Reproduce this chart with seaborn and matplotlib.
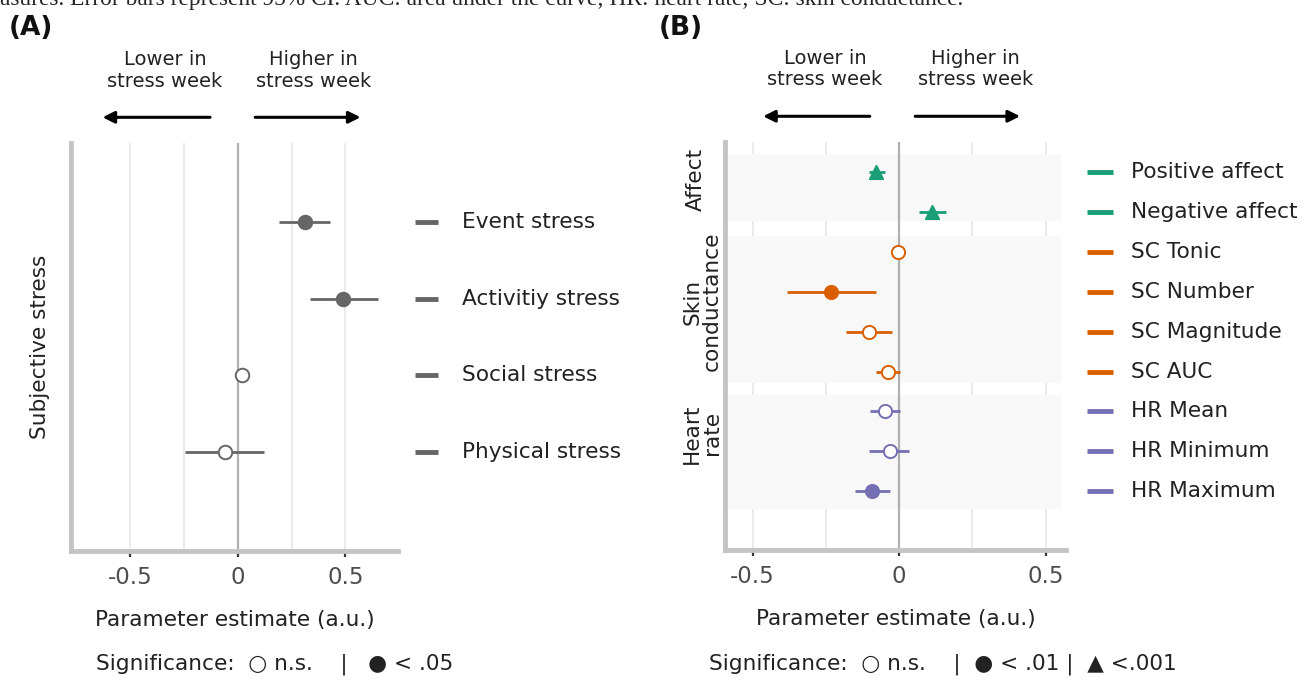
import numpy as np
import pandas as pd
import matplotlib
matplotlib.use("Agg")
import matplotlib.pyplot as plt
import matplotlib.transforms as mtrans
from matplotlib.lines import Line2D
import seaborn as sns

# ---------------- data ----------------
a_labels = ["Event stress", "Activitiy stress", "Social stress", "Physical stress"]
a_est = [0.31, 0.49, 0.02, -0.06]
a_lo = [0.19, 0.335, 0.005, -0.245]
a_hi = [0.43, 0.65, 0.035, 0.12]
a_sig = ["< .05", "< .05", "n.s.", "n.s."]

b_labels = ["Positive affect", "Negative affect", "SC Tonic", "SC Number",
            "SC Magnitude", "SC AUC", "HR Mean", "HR Minimum", "HR Maximum"]
b_group = ["Affect", "Affect", "Skin\nconductance", "Skin\nconductance",
           "Skin\nconductance", "Skin\nconductance", "Heart\nrate", "Heart\nrate", "Heart\nrate"]
b_est = [-0.078, 0.113, -0.002, -0.233, -0.102, -0.037, -0.047, -0.032, -0.092]
b_lo = [-0.103, 0.068, -0.012, -0.384, -0.18, -0.078, -0.099, -0.101, -0.152]
b_hi = [-0.047, 0.159, 0.008, -0.080, -0.024, 0.004, 0.004, 0.035, -0.031]
b_sig = ["<.001", "<.001", "n.s.", "< .01", "n.s.", "n.s.", "n.s.", "n.s.", "< .01"]

x_ticks = [-0.5, 0, 0.5]
x_ticklabels = ["-0.5", "0", "0.5"]
x_grid = [-0.5, -0.25, 0.25, 0.5]

caption = ("asures. Error bars represent 95% CI. AUC: area under the curve; "
           "HR: heart rate; SC: skin conductance.")

group_colors = {"Affect": "#1b9e77", "Skin\nconductance": "#d95f02", "Heart\nrate": "#7570b3"}
# band padding (above first row, below last row) and label offsets per group
band_pad = {"Affect": (0.45, 0.24), "Skin\nconductance": (0.4, 0.28), "Heart\nrate": (0.4, 0.45)}
label_shift = {"Affect": -0.3, "Skin\nconductance": -0.25, "Heart\nrate": -0.45}
grey = "#666666"
markers = {"n.s.": "o", "< .05": "o", "< .01": "o", "<.001": "^"}

# ---------------- style ----------------
sns.set_theme(style="white")
plt.rcParams["font.family"] = ["DejaVu Sans"]
FS = 15.6
TXT = "#222222"

df_a = pd.DataFrame({"label": a_labels, "est": a_est, "lo": a_lo, "hi": a_hi, "sig": a_sig})
df_a["pos"] = np.arange(len(df_a))
df_a["color"] = grey
df_b = pd.DataFrame({"label": b_labels, "group": b_group, "est": b_est, "lo": b_lo,
                     "hi": b_hi, "sig": b_sig})
df_b["pos"] = np.arange(len(df_b))
df_b["color"] = df_b["group"].map(group_colors)

fig = plt.figure(figsize=(13.09, 6.8), dpi=100)
axA = fig.add_axes([0.0542, 0.1897, 0.2498, 0.60])
axB = fig.add_axes([0.5539, 0.1912, 0.2605, 0.60])


def style_axes(ax, xlim, ylim):
    ax.set_xlim(*xlim)
    ax.set_ylim(*ylim)
    for s in ["top", "right"]:
        ax.spines[s].set_visible(False)
    for s in ["left", "bottom"]:
        ax.spines[s].set_color("#c4c4c4")
        ax.spines[s].set_linewidth(3.5)
        ax.spines[s].set_capstyle("projecting")
    ax.set_yticks([])
    ax.set_xticks(x_ticks)
    ax.set_xticklabels(x_ticklabels)
    ax.tick_params(axis="x", bottom=True, length=4, width=1.6, color="#333333",
                   labelcolor="#4d4d4d", labelsize=16.5, pad=7, direction="out")
    for g in x_grid:
        ax.axvline(g, color="#e8e8e8", lw=1.2, zorder=0)
    ax.axvline(0, color="#b0b0b0", lw=1.6, zorder=1)
    ax.set_xlabel("Parameter estimate (a.u.)", fontsize=FS, color=TXT, labelpad=15)
    ax.set_ylabel("")


def draw_points(ax, df, size):
    ax.hlines(df["pos"], df["lo"], df["hi"], colors=df["color"], lw=2, zorder=2)
    for _, r in df.iterrows():
        filled = r["sig"] != "n.s."
        sns.scatterplot(x=[r["est"]], y=[r["pos"]], ax=ax, color=r["color"],
                        marker=markers[r["sig"]], s=size,
                        facecolor=r["color"] if filled else "white",
                        edgecolor=r["color"], linewidth=1.4, zorder=3, legend=False)


def side_labels(ax, df, x0, x1, xt):
    tr = mtrans.blended_transform_factory(ax.transAxes, ax.transData)
    for _, r in df.iterrows():
        ax.add_line(Line2D([x0, x1], [r["pos"], r["pos"]], transform=tr, color=r["color"],
                           lw=3.5, clip_on=False, solid_capstyle="butt"))
        ax.text(xt, r["pos"], r["label"], transform=tr, fontsize=FS, color=TXT,
                va="center", ha="left", clip_on=False)


def arrows(ax, lower_tip, lower_tail, higher_tail, higher_tip, lower_txt_x, higher_txt_x):
    tr = mtrans.blended_transform_factory(ax.transData, ax.transAxes)
    props = dict(arrowstyle="-|>,head_length=0.5,head_width=0.25", lw=2.2, color="black",
                 mutation_scale=14, shrinkA=0, shrinkB=0)
    ax.annotate("", xy=(lower_tip, 1.063), xycoords=tr, xytext=(lower_tail, 1.063),
                textcoords=tr, arrowprops=props, annotation_clip=False)
    ax.annotate("", xy=(higher_tip, 1.063), xycoords=tr, xytext=(higher_tail, 1.063),
                textcoords=tr, arrowprops=props, annotation_clip=False)
    ax.text(lower_txt_x, 1.178, "Lower in\nstress week", transform=tr, ha="center", va="center",
            fontsize=14, color=TXT, linespacing=1.15)
    ax.text(higher_txt_x, 1.178, "Higher in\nstress week", transform=tr, ha="center", va="center",
            fontsize=14, color=TXT, linespacing=1.15)


# ---------------- Panel A ----------------
style_axes(axA, (-0.777, 0.744), (4.29, -1.03))
draw_points(axA, df_a, 95)
side_labels(axA, df_a, 1.052, 1.122, 1.196)
arrows(axA, -0.63, -0.13, 0.08, 0.57, -0.34, 0.35)
axA.text(-0.095, 0.5, "Subjective stress", transform=axA.transAxes, rotation=90,
         ha="center", va="center", fontsize=FS, color=TXT)

# ---------------- Panel B ----------------
style_axes(axB, (-0.594, 0.57), (9.47, -0.75))
trg = mtrans.blended_transform_factory(axB.transAxes, axB.transData)
for g, sub in df_b.groupby("group", sort=False):
    ptop, pbot = band_pad[g]
    axB.axhspan(sub["pos"].min() - ptop, sub["pos"].max() + pbot, xmin=0.006, xmax=0.985,
                color="#f8f8f8", zorder=0, lw=0)
    xg = -0.085 if "\n" not in g else -0.067
    axB.text(xg, sub["pos"].mean() + label_shift[g], g, transform=trg, rotation=90,
             ha="center", va="center", fontsize=FS, color=TXT, linespacing=1.0, clip_on=False)
draw_points(axB, df_b, 90)
side_labels(axB, df_b, 1.062, 1.138, 1.19)
arrows(axB, -0.464, -0.10, 0.055, 0.413, -0.253, 0.26)

# ---------------- figure texts ----------------
fig.text(0.007, 1 - 28 / 680, "(A)", fontsize=19, fontweight="bold", va="center", ha="left",
         color="#111111")
fig.text(0.503, 1 - 28 / 680, "(B)", fontsize=19, fontweight="bold", va="center", ha="left",
         color="#111111")
fig.text(0.0, 1 - 5 / 680, caption, fontsize=16.8, family=["Liberation Serif", "DejaVu Serif"],
         va="baseline", ha="left")
fig.text(96 / 1309, 1 - 664 / 680, "Significance:  \u25cb n.s.    |   \u25cf < .05",
         fontsize=FS, va="center", ha="left", color=TXT)
fig.text(709 / 1309, 1 - 664 / 680,
         "Significance:  \u25cb n.s.    |  \u25cf < .01 |  \u25b2 <.001",
         fontsize=FS, va="center", ha="left", color=TXT)

fig.savefig("out.png", dpi=100)
